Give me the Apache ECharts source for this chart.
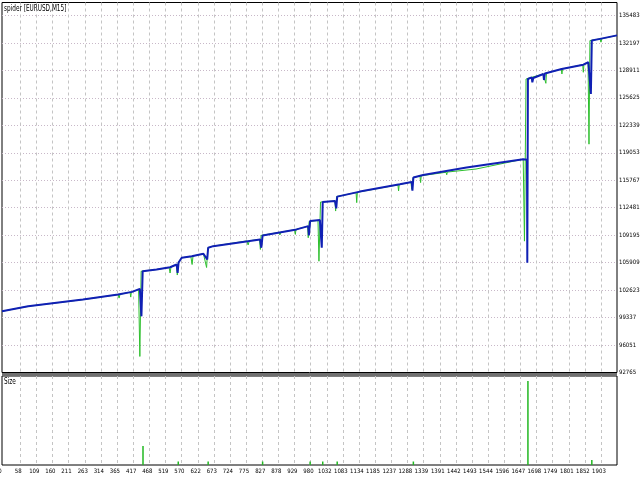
<!DOCTYPE html>
<html><head><meta charset="utf-8">
<script src="https://cdn.jsdelivr.net/npm/echarts@6/dist/echarts.min.js"></script>
<style>html,body{margin:0;padding:0;background:#fff}#c{width:640px;height:480px}</style>
</head><body><div id="c"></div>
<script>
// x tick labels (trade number) and y tick labels (balance)
const xTickLabels = [0,58,109,160,211,263,314,365,417,468,519,570,622,673,724,775,827,878,929,980,1032,1083,1134,1185,1237,1288,1339,1391,1442,1493,1544,1596,1647,1698,1749,1801,1852,1903];
const yTickLabels = [92765,96051,99337,102623,105909,109195,112481,115767,119053,122339,125625,128911,132197,135483];

// Balance (blue)
const balanceX = [0,83,257,369,413,438,443,447,491,534,555,558,561,571,603,640,652,655,671,820,824,828,936,973,975,979,1010,1016,1019,1058,1062,1065,1137,1264,1302,1304,1307,1338,1476,1656,1668,1669,1671,1683,1685,1688,1720,1722,1725,1778,1847,1863,1869,1871,1874,1900,1954];
const balanceY = [100085,100685,101489,102089,102413,102773,99485,104885,105089,105365,105689,104693,105929,106493,106685,106973,106289,107693,107885,108689,107693,109169,109889,110285,109169,110885,111005,107693,113165,113285,112409,113813,114413,115289,115565,114509,116093,116405,117293,118289,118229,105893,127889,128093,127493,128009,128489,127769,128549,129089,129605,129893,129929,126089,132485,132689,133109];

// Equity (green)
const equityX = [0,83,257,369,372,375,407,409,411,434,438,442,491,531,534,537,554,557,560,571,600,604,607,640,650,654,671,778,782,786,818,821,823,880,883,886,930,932,934,971,973,976,1004,1007,1012,1058,1060,1063,1125,1127,1129,1258,1260,1262,1299,1302,1306,1328,1330,1332,1411,1413,1415,1506,1508,1511,1656,1660,1665,1683,1720,1726,1728,1730,1777,1779,1781,1845,1847,1849,1862,1865,1868,1900,1903,1906,1954];
const equityY = [100085,100685,101489,102089,101669,102125,102377,101789,102389,102689,94685,104885,105089,105329,104669,105389,105689,104429,105929,106493,106649,105689,106709,106973,105329,107693,107885,108509,108029,108533,108689,107489,109169,109529,109229,109565,109853,109289,109889,110249,108893,110849,110969,106085,113165,113285,112085,113813,114293,113093,114329,115229,114485,115253,115553,114689,116093,116285,115493,116309,116729,116429,116753,117113,116885,117137,118289,108485,127889,128093,128489,128549,127373,128589,129065,128489,129089,129605,128693,129629,129869,120089,132485,132689,132293,132713,133109];

// Size (lots)
const sizeX = [448,560,655,828,979,1019,1065,1307,1671,1874];
const sizeY = [1.9,0.35,0.35,0.35,0.35,0.35,0.35,0.35,8.4,0.5];

const zip = (a, b) => a.map((v, i) => [v, b[i]]);
const FONT = '"DejaVu Sans Condensed", "Liberation Sans Narrow", "Liberation Sans", sans-serif';
const X_MIN = 0, X_MAX = 1954;
const plain = v => String(Math.round(v));
const gridTicks = xTickLabels.filter(v => v > X_MIN);

const chart = echarts.init(document.getElementById('c'), null, {renderer: 'canvas'});
chart.setOption({
  animation: false,
  backgroundColor: '#ffffff',
  graphic: [
    {type: 'rect', shape: {x: 2, y: 373, width: 615, height: 3}, style: {fill: '#707070'}, z: 100},
    {type: 'text', x: 4, y: 5, scaleX: 0.8, z: 100,
     style: {text: 'spider [EURUSD,M15]', font: '8px ' + FONT, fill: '#000'}},
    {type: 'text', x: 4, y: 378, scaleX: 0.8, z: 100,
     style: {text: 'Size', font: '8px ' + FONT, fill: '#000'}}
  ],
  grid: [
    {left: 2, right: 23, top: 2.5, height: 370, show: true, borderColor: '#000', borderWidth: 1, backgroundColor: '#fff', outerBoundsMode: 'none', containLabel: false},
    {left: 2, right: 23, top: 376, height: 89, show: true, borderColor: '#000', borderWidth: 1, backgroundColor: '#fff', outerBoundsMode: 'none', containLabel: false}
  ],
  xAxis: [
    {type: 'value', gridIndex: 0, min: X_MIN, max: X_MAX,
     axisLine: {show: false}, axisTick: {show: false, customValues: gridTicks},
     axisLabel: {show: false, customValues: xTickLabels},
     splitLine: {show: true, lineStyle: {color: '#c4c4c4', type: [3, 3], width: 1}}},
    {type: 'value', gridIndex: 1, min: X_MIN, max: X_MAX,
     axisLine: {show: false}, axisTick: {show: false, customValues: gridTicks},
     axisLabel: {show: true, customValues: xTickLabels, formatter: plain, fontSize: 6, color: '#000', fontFamily: FONT, margin: 3, padding: [0, 4, 0, 0], showMinLabel: true, showMaxLabel: true, hideOverlap: false},
     splitLine: {show: true, lineStyle: {color: '#c4c4c4', type: [3, 3], width: 1}}}
  ],
  yAxis: [
    {type: 'value', gridIndex: 0, position: 'right', min: 92765, max: 137043,
     axisLine: {show: false}, axisTick: {show: false, customValues: yTickLabels.filter(v => v > 92765)},
     axisLabel: {show: true, customValues: yTickLabels, formatter: plain, fontSize: 6, color: '#000', fontFamily: FONT, margin: 2, showMinLabel: true},
     splitLine: {show: true, lineStyle: {color: '#c8b8c8', type: [1, 2], width: 1}}},
    {type: 'value', gridIndex: 1, position: 'right', min: 0, max: 8.9,
     axisLine: {show: false}, axisTick: {show: false}, axisLabel: {show: false}, splitLine: {show: false}}
  ],
  series: [
    {type: 'line', name: 'Equity', xAxisIndex: 0, yAxisIndex: 0, data: zip(equityX, equityY),
     showSymbol: false, symbol: 'none', lineStyle: {color: '#2ec02e', width: 1}, z: 2},
    {type: 'line', name: 'Balance', xAxisIndex: 0, yAxisIndex: 0, data: zip(balanceX, balanceY),
     showSymbol: false, symbol: 'none', lineStyle: {color: '#1020b4', width: 2}, z: 3},
    {type: 'bar', name: 'Size', xAxisIndex: 1, yAxisIndex: 1, data: zip(sizeX, sizeY),
     barWidth: 1.5, itemStyle: {color: '#22b822'}}
  ]
});
</script>
</body></html>
